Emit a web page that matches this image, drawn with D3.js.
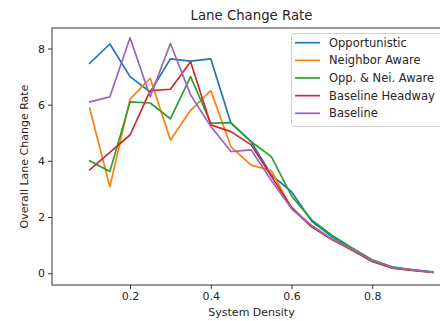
<!DOCTYPE html>
<html><head><meta charset="utf-8">
<script src="https://cdn.jsdelivr.net/npm/d3@7"></script>
<style>body{margin:0;background:#fff}svg{display:block}text{font-family:"DejaVu Sans",sans-serif;fill:#262626}</style>
</head><body><div id="chart"></div>
<script>
const densities = [0.1,0.15,0.2,0.25,0.3,0.35,0.4,0.45,0.5,0.55,0.6,0.65,0.7,0.75,0.8,0.85,0.9,0.95];
const seriesNames = ["Opportunistic","Neighbor Aware","Opp. & Nei. Aware","Baseline Headway","Baseline"];
const opportunistic = [7.47,8.16,7.0,6.45,7.63,7.55,7.63,5.34,4.68,3.5,2.9,1.85,1.3,0.88,0.45,0.22,0.12,0.04];
const neighborAware = [5.87,3.08,6.2,6.94,4.74,5.8,6.5,4.5,3.85,3.65,2.3,1.65,1.2,0.85,0.42,0.18,0.1,0.03];
const oppNeiAware = [4.0,3.62,6.1,6.06,5.5,7.0,5.34,5.36,4.68,4.15,2.75,1.9,1.35,0.9,0.48,0.22,0.12,0.04];
const baselineHeadway = [3.68,4.3,4.92,6.5,6.55,7.53,5.28,5.04,4.57,3.45,2.35,1.65,1.2,0.82,0.42,0.18,0.1,0.03];
const baseline = [6.1,6.28,8.38,6.28,8.18,6.35,5.22,4.33,4.39,3.3,2.3,1.7,1.22,0.85,0.45,0.2,0.12,0.03];
const xTicks = [0.2,0.4,0.6,0.8];
const yTicks = [0,2,4,6,8];
const colors = ["#1f77b4","#ff7f0e","#2ca02c","#d62728","#9467bd"];
const allSeries = [opportunistic, neighborAware, oppNeiAware, baselineHeadway, baseline];

(function(){
const W = 440, H = 321;
const mL = 52, mR = 451, mT = 28, mB = 285;
const svg = d3.select("#chart").append("svg").attr("width", W).attr("height", H);

const x = d3.scaleLinear().domain([0.0067, 0.995]).range([mL, mR]);
const y = d3.scaleLinear().domain([-0.42, 8.73]).range([mB, mT]);

const line = d3.line().x((d,i) => x(densities[i])).y(d => y(d));
allSeries.forEach((s, k) => {
  svg.append("path").datum(s).attr("d", line).attr("fill", "none")
    .attr("stroke", colors[k]).attr("stroke-width", 1.7).attr("stroke-linejoin", "round").attr("stroke-linecap", "square");
});

const xAxis = d3.axisBottom(x).tickValues(xTicks).tickFormat(d3.format(".1f")).tickSize(4).tickPadding(3);
const yAxis = d3.axisLeft(y).tickValues(yTicks).tickFormat(d3.format("d")).tickSize(4).tickPadding(3);
const gx = svg.append("g").attr("transform", `translate(0,${mB})`).call(xAxis);
const gy = svg.append("g").attr("transform", `translate(${mL},0)`).call(yAxis);
[gx, gy].forEach(g => {
  g.select(".domain").remove();
  g.selectAll("line").attr("stroke", "#333").attr("stroke-width", 1);
  g.selectAll("text").attr("font-size", 11).attr("fill", "#262626").attr("font-family", "DejaVu Sans");
});
svg.append("rect").attr("x", mL).attr("y", mT).attr("width", mR-mL).attr("height", mB-mT)
  .attr("fill", "none").attr("stroke", "#333").attr("stroke-width", 1);

svg.append("text").attr("x", (mL+mR)/2).attr("y", 20).attr("text-anchor", "middle").attr("font-size", 13.3).text("Lane Change Rate");
svg.append("text").attr("x", (mL+mR)/2).attr("y", 316).attr("text-anchor", "middle").attr("font-size", 11).text("System Density");
svg.append("text").attr("transform", `translate(28,${(mT+mB)/2}) rotate(-90)`).attr("text-anchor", "middle").attr("font-size", 11).text("Overall Lane Change Rate");

const lg = svg.append("g");
lg.append("rect").attr("x", 291.5).attr("y", 33.5).attr("width", 160).attr("height", 93).attr("rx", 3)
  .attr("fill", "#fff").attr("fill-opacity", 0.8).attr("stroke", "#d0d0d0");
seriesNames.forEach((n, k) => {
  const yy = 42.7 + k*17.65;
  lg.append("line").attr("x1", 295).attr("x2", 320).attr("y1", yy).attr("y2", yy).attr("stroke", colors[k]).attr("stroke-width", 1.7);
  lg.append("text").attr("x", 329).attr("y", yy + 4).attr("font-size", 11.5).text(n);
});
})();
</script></body></html>
